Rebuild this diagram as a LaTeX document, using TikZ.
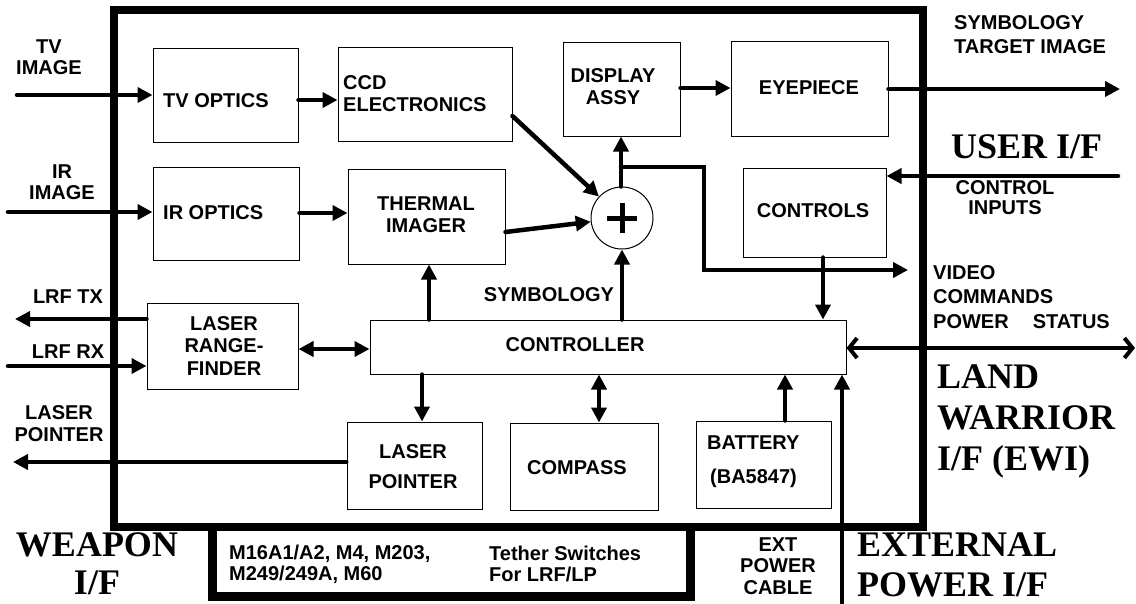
\documentclass[tikz,border=0pt]{standalone}
\usepackage{fontspec}
\setmainfont{Liberation Serif}
\setsansfont{Liberation Sans}
\usetikzlibrary{arrows.meta}
\begin{document}
\begin{tikzpicture}[x=1pt,y=-1pt,
  box/.style={draw, line width=1pt, inner sep=0pt, rectangle},
  lbl/.style={font=\fontsize{20}{22}\selectfont\sffamily\bfseries, inner sep=0pt, align=center},
  lbll/.style={lbl, align=left},
  big/.style={font=\fontsize{36}{40}\selectfont\rmfamily\bfseries, inner sep=0pt, align=left},
  conn/.style={line width=4.5pt, line cap=round, -{Triangle[length=15pt,width=15pt]}},
  dbl/.style={line width=4.5pt, {Triangle[length=15pt,width=15pt]}-{Triangle[length=15pt,width=15pt]}},
  barb/.style={line width=4pt, {Straight Barb[length=8pt,width=20pt]}-{Straight Barb[length=8pt,width=20pt]}},
  plain/.style={line width=4.5pt, line cap=round}
]
\useasboundingbox (0,0) rectangle (1136,603);

% outer frame and weapon interface box
\draw[line width=8pt] (114,10) rectangle (923,527);
\draw[line width=9pt, line join=miter] (212,527) |- (690,596) -- (690,527);

% boxes
\node[box, minimum width=145pt, minimum height=94pt] (tvopt) at (225.5,95) {};
\node[box, minimum width=174pt, minimum height=94pt] (ccd) at (425,94) {};
\node[box, minimum width=117pt, minimum height=94pt] (disp) at (621.5,89) {};
\node[box, minimum width=157pt, minimum height=95pt] (eye) at (809.5,88.5) {};
\node[box, minimum width=146pt, minimum height=93pt] (iropt) at (226,213.5) {};
\node[box, minimum width=157pt, minimum height=95pt] (therm) at (426.5,216.5) {};
\node[box, minimum width=143pt, minimum height=89pt] (ctrls) at (814.5,212.5) {};
\node[box, minimum width=151pt, minimum height=86pt] (lrf) at (222.5,346) {};
\node[box, minimum width=476pt, minimum height=54pt] (ctrl) at (608,347) {};
\node[box, minimum width=135pt, minimum height=87pt] (lp) at (414.5,465.5) {};
\node[box, minimum width=148pt, minimum height=87pt] (comp) at (584,466.5) {};
\node[box, minimum width=135pt, minimum height=87pt] (batt) at (763.5,464.5) {};
\node[draw, circle, line width=1pt, minimum size=62pt, inner sep=0pt] (sum) at (622,218) {};
\draw[line width=5pt] ([xshift=-15pt]sum.center) -- ([xshift=15pt]sum.center);
\draw[line width=5pt] ([yshift=-15pt]sum.center) -- ([yshift=15pt]sum.center);

% box texts
\node[lbl, anchor=west] (ttv) at (163,101) {TV OPTICS};
\node[lbll, anchor=west] (tccd) at (343,94) {CCD\\ELECTRONICS};
\node[lbl] (tdisp) at (613,87) {DISPLAY\\ASSY};
\node[lbl] (teye) at (809,88) {EYEPIECE};
\node[lbl, anchor=west] (tir) at (163,213) {IR OPTICS};
\node[lbl] (ttherm) at (426,215) {THERMAL\\IMAGER};
\node[lbl] (tctrls) at (813,211) {CONTROLS};
\node[lbl, font=\fontsize{20}{22.5}\selectfont\sffamily\bfseries] (tlrf) at (224,346) {LASER\\RANGE-\\FINDER};
\node[lbl] (tctrl) at (575,345) {CONTROLLER};
\node[lbl, font=\fontsize{20}{30}\selectfont\sffamily\bfseries] (tlp) at (413,467) {LASER\\POINTER};
\node[lbl] (tcomp) at (577,468) {COMPASS};
\node[lbl, anchor=west] (tbatt) at (707,443) {BATTERY};
\node[lbl, anchor=west] (tba) at (710,478) {(BA5847)};
\node[lbl] (tsym) at (549,295) {SYMBOLOGY};

% outside labels
\node[lbl, font=\fontsize{20}{21}\selectfont\sffamily\bfseries] (ltv) at (49,57) {TV\\IMAGE};
\node[lbl, font=\fontsize{20}{21}\selectfont\sffamily\bfseries] (lir) at (62,182) {IR\\IMAGE};
\node[lbl] (llrftx) at (68,297) {LRF TX};
\node[lbl] (llrfrx) at (68,352) {LRF RX};
\node[lbl] (llp) at (59,424) {LASER\\POINTER};
\node[big, align=center, font=\fontsize{36}{38}\selectfont\rmfamily\bfseries] (lweap) at (97,564) {WEAPON\\I/F};
\node[lbll, font=\fontsize{20}{21}\selectfont\sffamily\bfseries, anchor=west] (lguns) at (229,564) {M16A1/A2, M4, M203,\\M249/249A, M60};
\node[lbll, font=\fontsize{20}{21}\selectfont\sffamily\bfseries, anchor=west] (lteth) at (489,564) {Tether Switches\\For LRF/LP};
\node[lbl, font=\fontsize{20}{21.5}\selectfont\sffamily\bfseries] (lext) at (778,566) {EXT\\POWER\\CABLE};
\node[big, anchor=west] (lextp) at (857,565) {EXTERNAL\\POWER I/F};
\node[big, font=\fontsize{36}{41}\selectfont\rmfamily\bfseries, anchor=west] (lland) at (937,421) {LAND\\WARRIOR\\I/F (EWI)};
\node[lbll, font=\fontsize{20}{24.5}\selectfont\sffamily\bfseries, anchor=west] (lvid) at (933,297) {VIDEO\\COMMANDS\\POWER\hspace{24pt}STATUS};
\node[lbl, font=\fontsize{20}{20}\selectfont\sffamily\bfseries] (lci) at (1005,198) {CONTROL\\INPUTS};
\node[big, anchor=west] (luser) at (951,147) {USER I/F};
\node[lbll, font=\fontsize{20}{24}\selectfont\sffamily\bfseries, anchor=west] (lsym) at (954,35) {SYMBOLOGY\\TARGET IMAGE};

% free ends
\coordinate (tvsrc) at (17,95);
\coordinate (irsrc) at (8,212);
\coordinate (txdst) at (15,319);
\coordinate (rxsrc) at (8,366);
\coordinate (lpdst) at (13,462);
\coordinate (eyedst) at (1120,89);
\coordinate (cisrc) at (1118,176);
\coordinate (ewidst) at (1135,348);
\coordinate (pwrsrc) at (842,603);
\coordinate (vidout) at (908,270);
\coordinate (br) at (621,167);

% connectors
\draw[conn] (tvsrc) -- (tvopt.west);
\draw[conn] (tvopt.east |- 0,100) -- (ccd.west |- 0,100);
\draw[conn] (irsrc) -- (iropt.west |- irsrc);
\draw[conn] (iropt.east |- 0,213) -- (therm.west |- 0,213);
\draw[conn] (lrf.west |- txdst) -- (txdst);
\draw[conn] (rxsrc) -- (lrf.west |- rxsrc);
\draw[dbl] (lrf.east |- 0,349) -- (ctrl.west |- 0,349);
\draw[conn] (ctrl.north -| 429,0) -- (therm.south -| 429,0);
\draw[conn] (ctrl.north -| sum.south) -- (sum.south);
\draw[conn] (ccd.east |- 0,116) -- (sum);
\draw[conn] (therm.east |- 0,232) -- (sum);
\draw[conn] (sum.north -| br) -- (disp.south -| br);
\draw[plain, -{Triangle[length=15pt,width=15pt]}] (br) -- (704,167) -- (704,270) -- (vidout);
\draw[conn] (disp.east |- 0,88) -- (eye.west |- 0,88);
\draw[conn] (eye.east |- eyedst) -- (eyedst);
\draw[conn] (cisrc) -- (ctrls.east |- cisrc);
\draw[conn] (ctrls.south -| 823,0) -- (ctrl.north -| 823,0);
\draw[barb] (ctrl.east |- ewidst) -- (ewidst);
\draw[conn] (ctrl.south -| lp.north) ++(7.5,0) -- (lp.north -| 422,0);
\draw[dbl] (ctrl.south -| 599,0) -- (comp.north -| 599,0);
\draw[conn] (batt.north -| 785,0) -- (ctrl.south -| 785,0);
\draw[conn, line width=4pt] (pwrsrc) -- (ctrl.south -| pwrsrc);
\draw[conn, line width=4pt] (lp.west |- lpdst) -- (lpdst);
\end{tikzpicture}
\end{document}
